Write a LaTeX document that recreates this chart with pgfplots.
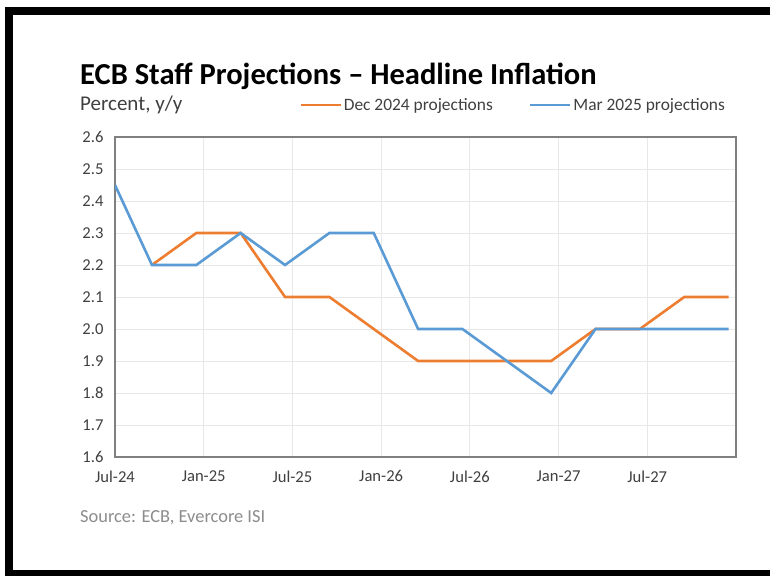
\documentclass[border=0pt]{standalone}
\usepackage{fontspec}
\setmainfont{Carlito}
\usepackage{pgfplots}
\pgfplotsset{compat=1.18}
\definecolor{orangeS}{HTML}{ED7D31}
\definecolor{blueS}{HTML}{5B9BD5}
\definecolor{txt}{HTML}{404040}
\begin{document}
\begin{tikzpicture}[x=1pt,y=1pt]
\path[use as bounding box] (0,0) rectangle (770,576);
\fill[white] (0,0) rectangle (770,576);
\fill[black] (5,561) rectangle (770,569);
\fill[black] (5,0) rectangle (13,569);
\fill[black] (5,0) rectangle (770,6);
\node[anchor=base west, inner sep=0, font=\fontsize{30.5}{34}\selectfont\bfseries] at (80,491) {ECB Staff Projections – Headline Inflation};
\node[anchor=base west, inner sep=0, text=txt, font=\fontsize{21}{24}\selectfont] at (80,465) {Percent, y/y};
\node[anchor=base west, inner sep=0, text=black!45, font=\fontsize{18.4}{21}\selectfont] at (80,54) {Source: ECB, Evercore ISI};
\begin{axis}[
  at={(115pt,119pt)}, anchor=south west,
  scale only axis, width=621pt, height=320pt,
  xmin=0, xmax=42, ymin=1.6, ymax=2.6,
  xtick={0,6,12,18,24,30,36},
  xticklabels={Jul-24,Jan-25,Jul-25,Jan-26,Jul-26,Jan-27,Jul-27},
  ytick={1.6,1.7,1.8,1.9,2.0,2.1,2.2,2.3,2.4,2.5,2.6},
  /pgf/number format/assume math mode=true,
  yticklabel style={/pgf/number format/fixed, /pgf/number format/fixed zerofill, /pgf/number format/precision=1, xshift=-8pt},
  xticklabel style={yshift=-10pt},
  tick label style={font=\fontsize{16.6}{19}\selectfont, text=txt},
  major tick length=0pt,
  grid=major,
  grid style={draw=black!9, line width=0.8pt},
  axis line style={draw=black!50, line width=1.2pt},
  legend columns=2,
  legend style={at={(0.641,1.1)}, anchor=center, draw=none, fill=none,
    font=\fontsize{17.4}{20}\selectfont, text=txt,
    /tikz/every even column/.append style={column sep=34pt},
    nodes={inner xsep=2pt}},
  legend image code/.code={\draw[#1] (0pt,0pt) -- (40pt,0pt);},
]
\addplot[orangeS, line width=2.6pt] coordinates {
(2.5,2.2) (5.5,2.3) (8.5,2.3) (11.5,2.1) (14.5,2.1) (17.5,2.0) (20.5,1.9)
(23.5,1.9) (26.5,1.9) (29.5,1.9) (32.5,2.0) (35.5,2.0) (38.5,2.1) (41.5,2.1)};
\addlegendentry{Dec 2024 projections}
\addplot[blueS, line width=2.6pt] coordinates {
(0,2.45) (2.5,2.2) (5.5,2.2) (8.5,2.3) (11.5,2.2) (14.5,2.3) (17.5,2.3) (20.5,2.0)
(23.5,2.0) (26.5,1.9) (29.5,1.8) (32.5,2.0) (35.5,2.0) (38.5,2.0) (41.5,2.0)};
\addlegendentry{Mar 2025 projections}
\end{axis}
\end{tikzpicture}
\end{document}
